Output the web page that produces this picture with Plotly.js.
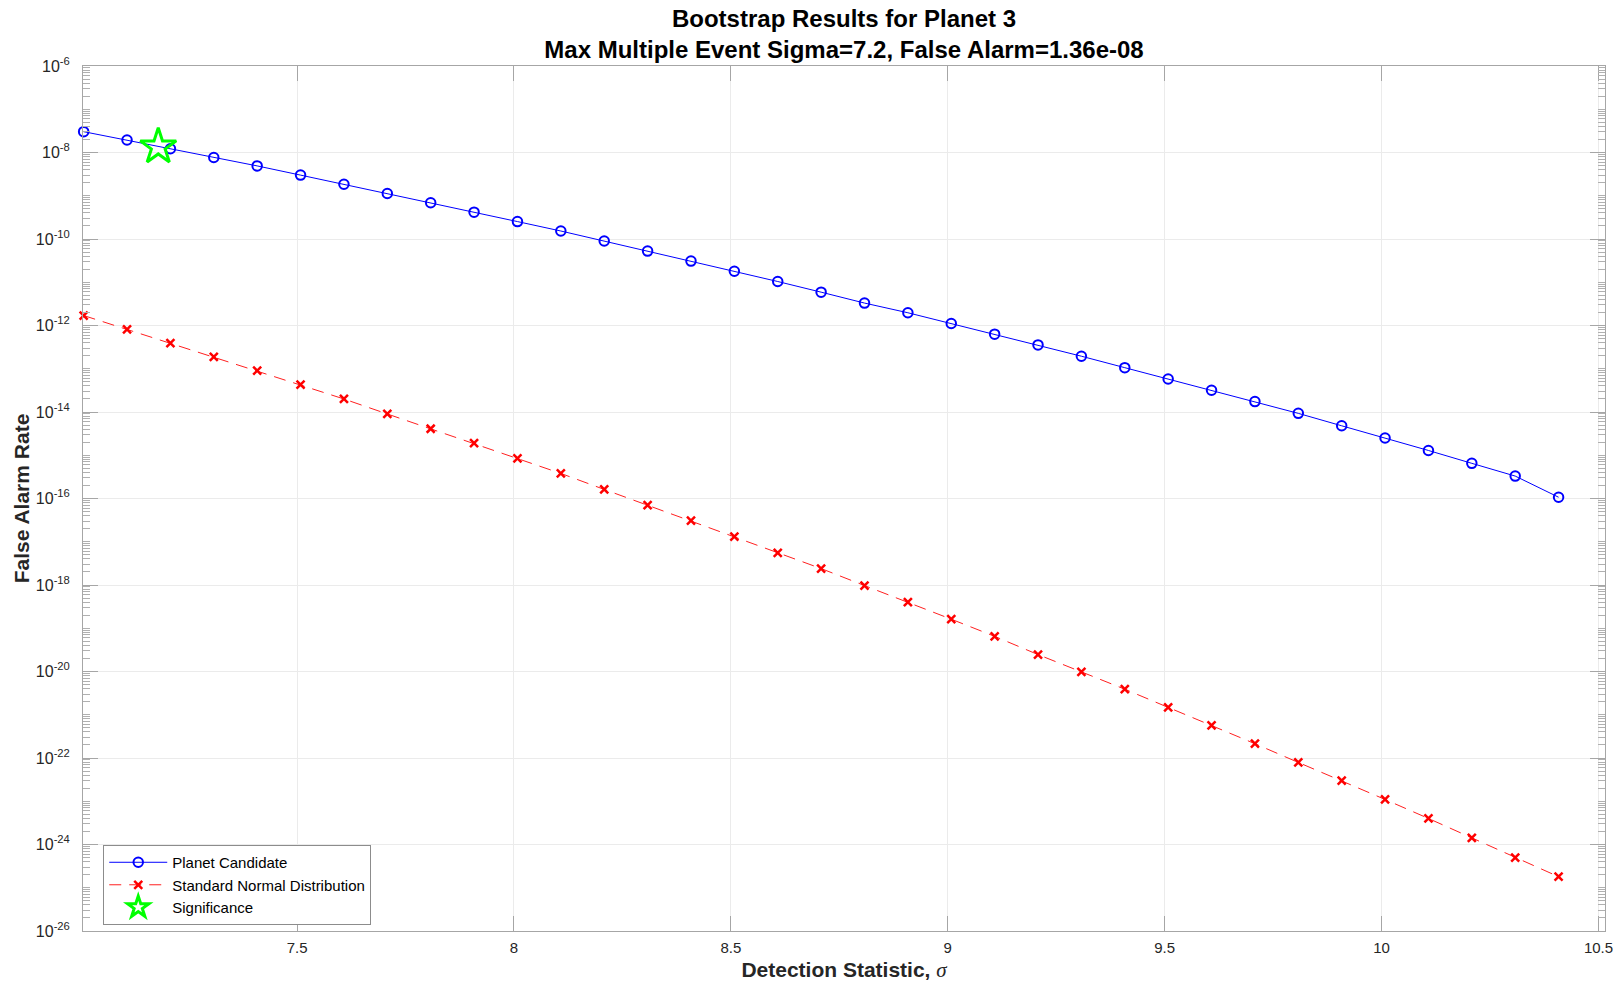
<!DOCTYPE html>
<html>
<head>
<meta charset="utf-8">
<script src="https://cdn.plot.ly/plotly-3.0.1.min.js"></script>
<style>
  html, body { margin: 0; padding: 0; background: #ffffff; }
  #chart { width: 1619px; height: 984px; }
</style>
</head>
<body>
<div id="chart"></div>
<script>
// Detection statistic (sigma) values
const sigmaValues = [7.008, 7.108, 7.208, 7.308, 7.408, 7.508, 7.608, 7.708, 7.808, 7.908,
                     8.008, 8.108, 8.208, 8.308, 8.408, 8.508, 8.608, 8.708, 8.808, 8.908,
                     9.008, 9.108, 9.208, 9.308, 9.408, 9.508, 9.608, 9.708, 9.808, 9.908,
                     10.008, 10.108, 10.208, 10.308, 10.408];

// Planet Candidate false alarm rate (bootstrap)
const planetCandidate = [3.03e-8, 1.94e-8, 1.22e-8, 7.65e-9, 4.9e-9, 3.0e-9, 1.84e-9, 1.13e-9, 6.9e-10, 4.17e-10,
                         2.53e-10, 1.53e-10, 8.98e-11, 5.25e-11, 3.08e-11, 1.8e-11, 1.04e-11, 5.9e-12, 3.3e-12, 1.97e-12,
                         1.11e-12, 6.3e-13, 3.56e-13, 1.95e-13, 1.06e-13, 5.8e-14, 3.18e-14, 1.74e-14, 9.3e-15, 4.8e-15,
                         2.5e-15, 1.29e-15, 6.5e-16, 3.3e-16, 1.07e-16];

// Standard normal distribution tail
const standardNormal = [1.7e-12, 8.1e-13, 3.9e-13, 1.89e-13, 9.0e-14, 4.27e-14, 2.0e-14, 9.0e-15, 4.1e-15, 1.9e-15,
                        8.5e-16, 3.8e-16, 1.62e-16, 7.0e-17, 3.07e-17, 1.32e-17, 5.5e-18, 2.4e-18, 9.7e-19, 4.0e-19,
                        1.62e-19, 6.5e-20, 2.46e-20, 9.8e-21, 3.9e-21, 1.48e-21, 5.7e-22, 2.14e-22, 7.9e-23, 3.0e-23,
                        1.1e-23, 4.0e-24, 1.43e-24, 5.0e-25, 1.8e-25];

// Significance point
const significanceSigma = [7.18];
const significanceFA = [1.36e-8];

// Axis ticks
const xTickVals = [7.5, 8, 8.5, 9, 9.5, 10, 10.5];
const xTickText = ['7.5', '8', '8.5', '9', '9.5', '10', '10.5'];
const yExponents = [-26, -24, -22, -20, -18, -16, -14, -12, -10, -8, -6];

const yTickVals = yExponents.map(e => Math.pow(10, e));
const yTickText = yExponents.map(e => '10<sup>' + e + '</sup>');

const sans = '"Liberation Sans", Arial, sans-serif';
const axisGray = '#a6a6a6';

const traces = [
  {
    x: sigmaValues, y: planetCandidate, type: 'scatter', mode: 'lines+markers',
    name: 'Planet Candidate', cliponaxis: false,
    line: { color: '#0000ff', width: 1 },
    marker: { symbol: 'circle-open', size: 9.5, color: '#0000ff', line: { color: '#0000ff', width: 2 } }
  },
  {
    x: sigmaValues, y: standardNormal, type: 'scatter', mode: 'lines+markers',
    name: 'Standard Normal Distribution', cliponaxis: false,
    line: { color: '#ff2020', width: 1, dash: '12px,8px' },
    marker: { symbol: 'x-thin-open', size: 8, color: '#ff0000', line: { color: '#ff0000', width: 2.5 } }
  },
  {
    x: significanceSigma, y: significanceFA, type: 'scatter', mode: 'markers',
    name: 'Significance', cliponaxis: false,
    marker: { symbol: 'star-open', size: 27, color: '#00ff00', line: { color: '#00ff00', width: 3 } }
  }
];

const layout = {
  width: 1619, height: 984,
  paper_bgcolor: '#ffffff', plot_bgcolor: '#ffffff',
  margin: { l: 83, r: 14, t: 66, b: 53, pad: 0 },
  showlegend: true,
  title: {
    text: 'Bootstrap Results for Planet 3<br>Max Multiple Event Sigma=7.2, False Alarm=1.36e-08',
    font: { family: sans, size: 24, color: '#000000', weight: 'bold' },
    x: 0.5, xref: 'paper', xanchor: 'center',
    y: 0.973, yref: 'container', yanchor: 'top'
  },
  xaxis: {
    type: 'linear', range: [7.0065, 10.515],
    tickmode: 'array', tickvals: xTickVals, ticktext: xTickText,
    ticks: 'inside', ticklen: 15, tickwidth: 1, tickcolor: axisGray,
    showline: true, linecolor: axisGray, linewidth: 1, mirror: 'ticks',
    showgrid: true, gridcolor: '#ebebeb', gridwidth: 1, zeroline: false,
    tickfont: { family: sans, size: 15, color: '#262626' },
    ticklabelstandoff: 3,
    title: {
      text: 'Detection Statistic, <span style="font-family:Liberation Serif;font-style:italic;font-weight:normal">σ</span>',
      font: { family: sans, size: 21, color: '#262626', weight: 'bold' },
      standoff: 7
    }
  },
  yaxis: {
    type: 'log', range: [-26, -6],
    tickmode: 'array', tickvals: yTickVals, ticktext: yTickText,
    ticks: 'inside', ticklen: 15, tickwidth: 1, tickcolor: axisGray,
    showline: true, linecolor: axisGray, linewidth: 1, mirror: 'ticks',
    showgrid: true, gridcolor: '#ebebeb', gridwidth: 1, zeroline: false,
    tickfont: { family: sans, size: 16, color: '#262626' },
    ticklabelstandoff: 9,
    minor: { dtick: 'D1', ticks: 'inside', ticklen: 7, tickcolor: '#b0b0b0', tickwidth: 1, showgrid: false },
    title: {
      text: 'False Alarm Rate',
      font: { family: sans, size: 21, color: '#262626', weight: 'bold' },
      standoff: 0
    }
  },
  legend: {
    x: 0.0133, y: 0.0994, xanchor: 'left', yanchor: 'top',
    xref: 'paper', yref: 'paper',
    bgcolor: '#ffffff', bordercolor: '#8c8c8c', borderwidth: 1,
    font: { family: sans, size: 15, color: '#000000' },
    itemwidth: 58, tracegroupgap: 0
  }
};

Plotly.newPlot('chart', traces, layout, { displayModeBar: false, staticPlot: true });
</script>
</body>
</html>
